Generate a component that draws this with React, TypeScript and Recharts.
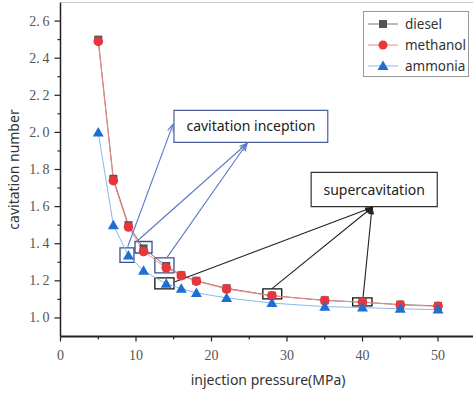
import React from 'react';
import { LineChart, Line, XAxis, YAxis, ReferenceArea, ReferenceLine } from 'recharts';

// injection pressure (MPa) and cavitation number per fuel
const pressure = [5, 7, 9, 11, 14, 16, 18, 22, 28, 35, 40, 45, 50];
const diesel = [2.5, 1.75, 1.5, 1.375, 1.28, 1.23, 1.2, 1.16, 1.12, 1.095, 1.085, 1.072, 1.065];
const methanol = [2.49, 1.74, 1.49, 1.358, 1.27, 1.228, 1.198, 1.156, 1.119, 1.094, 1.085, 1.07, 1.063];
const ammonia = [2.0, 1.5, 1.337, 1.254, 1.184, 1.158, 1.135, 1.108, 1.08, 1.061, 1.056, 1.049, 1.045];

const xTicks = [0, 5, 10, 15, 20, 25, 30, 35, 40, 45, 50];
const yTicks = [1.0, 1.1, 1.2, 1.3, 1.4, 1.5, 1.6, 1.7, 1.8, 1.9, 2.0, 2.1, 2.2, 2.3, 2.4, 2.5, 2.6];

// annotation boxes / arrows, in data units
const inceptionBox = { x1: 15.03, x2: 35.4, y1: 1.946, y2: 2.119, text: 'cavitation inception' };
const superBox = { x1: 33.2, x2: 49.9, y1: 1.6, y2: 1.784, text: 'supercavitation' };
const blueMarks = [
  [7.88, 9.73, 1.299, 1.378],
  [9.87, 12.12, 1.35, 1.412],
  [12.5, 15.03, 1.243, 1.324],
];
const blackMarks = [
  [12.5, 15.03, 1.157, 1.216],
  [26.8, 29.3, 1.103, 1.157],
  [38.7, 41.26, 1.065, 1.108],
];
const blueArrows = [
  [8.9, 1.384, 14.9, 2.043],
  [10.13, 1.4135, 24.7, 1.94],
  [14.07, 1.324, 24.7, 1.94],
];
const blackArrows = [
  [15.17, 1.195, 41.26, 1.595],
  [27.97, 1.157, 41.26, 1.595],
  [40.07, 1.108, 41.26, 1.595],
];

const data = pressure.map((p, i) => ({ p, diesel: diesel[i], methanol: methanol[i], ammonia: ammonia[i] }));

const SANS = '"Noto Sans", "Open Sans", sans-serif';
const SERIF = '"Liberation Serif", "DejaVu Serif", serif';

const Square = (props: any) => {
  const { cx, cy, fill } = props;
  if (cx == null || cy == null) return null;
  return <rect x={cx - 4} y={cy - 4} width={8} height={8} fill={fill} />;
};

const Triangle = (props: any) => {
  const { cx, cy, fill } = props;
  if (cx == null || cy == null) return null;
  return <polygon points={`${cx},${cy - 5.5} ${cx - 5.5},${cy + 4} ${cx + 5.5},${cy + 4}`} fill={fill} />;
};

const Circle = (props: any) => {
  const { cx, cy, fill } = props;
  if (cx == null || cy == null) return null;
  return <circle cx={cx} cy={cy} r={4.8} fill={fill} />;
};

const XTick = ({ x, y, payload }: any) => {
  const major = payload.value % 10 === 0;
  return (
    <g>
      <line x1={x} x2={x} y1={y} y2={y + (major ? 5 : 3)} stroke="#222" strokeWidth={1.2} />
      {major && (
        <text x={x} y={y + 19} textAnchor="middle" dominantBaseline="central" fill="#555" fontSize={14} style={{ fontFamily: SERIF }}>
          {payload.value}
        </text>
      )}
    </g>
  );
};

const YTick = ({ x, y, payload }: any) => {
  const major = Math.round(payload.value * 10) % 2 === 0;
  const [a, b] = payload.value.toFixed(1).split('.');
  return (
    <g>
      <line x1={x} x2={x - (major ? 6 : 3)} y1={y} y2={y} stroke="#222" strokeWidth={1.2} />
      {major && (
        <text x={x - 11} y={y} textAnchor="end" dominantBaseline="central" fill="#555" fontSize={14} style={{ fontFamily: SERIF }}>
          {a}.{'\u2009'}{b}
        </text>
      )}
    </g>
  );
};

const arrow = (color: string, filled: boolean) => (props: any) => {
  const { x1, y1, x2, y2 } = props;
  const a = Math.atan2(y2 - y1, x2 - x1);
  const L = filled ? 7 : 8;
  const w = filled ? 0.3 : 0.38;
  const ax = x2 - L * Math.cos(a - w);
  const ay = y2 - L * Math.sin(a - w);
  const bx = x2 - L * Math.cos(a + w);
  const by = y2 - L * Math.sin(a + w);
  return (
    <g>
      <line x1={x1} y1={y1} x2={x2} y2={y2} stroke={color} strokeWidth={1.1} />
      <polyline
        points={`${ax},${ay} ${x2},${y2} ${bx},${by}`}
        fill={filled ? color : 'none'}
        stroke={color}
        strokeWidth={1.1}
      />
    </g>
  );
};

const legendItems = [
  { name: 'diesel', line: '#777', marker: 'square', color: '#555' },
  { name: 'methanol', line: '#f08a8a', marker: 'circle', color: '#e8363c' },
  { name: 'ammonia', line: '#8db7ea', marker: 'triangle', color: '#1f6fd1' },
];

const LegendBox = () => (
  <div
    style={{
      position: 'absolute',
      left: 363,
      top: 11,
      width: 106,
      height: 66,
      border: '1px solid #999',
      background: '#fff',
      boxSizing: 'border-box',
      paddingTop: 1,
    }}
  >
    {legendItems.map((it) => (
      <div key={it.name} style={{ display: 'flex', alignItems: 'center', height: 21 }}>
        <svg width={36} height={20} style={{ marginLeft: 2 }}>
          <line x1={2} x2={32} y1={10} y2={10} stroke={it.line} strokeWidth={1} />
          {it.marker === 'square' && <rect x={13} y={6} width={8} height={8} fill={it.color} />}
          {it.marker === 'circle' && <circle cx={17} cy={10} r={4.5} fill={it.color} />}
          {it.marker === 'triangle' && <polygon points="17,4.5 11.5,14 22.5,14" fill={it.color} />}
        </svg>
        <span style={{ fontFamily: SANS, fontSize: 13.5, color: '#333', marginLeft: 3 }}>{it.name}</span>
      </div>
    ))}
  </div>
);

export default function App() {
  return (
    <div style={{ position: 'absolute', left: 0, top: 0, width: 473, height: 393, overflow: 'hidden', background: '#fff' }}>
      <LineChart width={480} height={393} data={data} margin={{ top: 2.5, right: 4.25, bottom: 0, left: 0.5 }}>
        <XAxis
          dataKey="p"
          type="number"
          domain={[0, 55]}
          ticks={xTicks}
          interval={0}
          tick={<XTick />}
          tickSize={0}
          tickMargin={0}
          tickLine={false}
          height={56.5}
          axisLine={{ stroke: '#222', strokeWidth: 2 }}
          label={{
            value: 'injection pressure(MPa)',
            position: 'insideBottom',
            offset: 8,
            fill: '#333',
            fontSize: 14,
            fontFamily: SANS,
          }}
        />
        <YAxis
          type="number"
          domain={[0.9, 2.7]}
          ticks={yTicks}
          interval={0}
          tick={<YTick />}
          tickSize={0}
          tickMargin={0}
          tickLine={false}
          width={60}
          axisLine={{ stroke: '#222', strokeWidth: 1.5 }}
          label={{
            value: 'cavitation number',
            angle: -90,
            position: 'insideLeft',
            offset: 13.5,
            fill: '#333',
            fontSize: 14,
            fontFamily: SANS,
            style: { textAnchor: 'middle' },
          }}
        />
        <ReferenceLine y={2.7} stroke="#c8c8c8" strokeWidth={1} />

        <Line dataKey="diesel" stroke="#8a6a6a" strokeWidth={1} dot={<Square fill="#555" />} activeDot={false} isAnimationActive={false} />
        <Line dataKey="methanol" stroke="#f08a8a" strokeWidth={1} dot={<Circle fill="#e8363c" />} activeDot={false} isAnimationActive={false} />
        <Line dataKey="ammonia" stroke="#8db7ea" strokeWidth={1} dot={<Triangle fill="#1f6fd1" />} activeDot={false} isAnimationActive={false} />

        {blueMarks.map((m, i) => (
          <ReferenceArea key={`bm${i}`} x1={m[0]} x2={m[1]} y1={m[2]} y2={m[3]} fill="none" stroke="#34508f" strokeWidth={1.3} />
        ))}
        {blackMarks.map((m, i) => (
          <ReferenceArea key={`km${i}`} x1={m[0]} x2={m[1]} y1={m[2]} y2={m[3]} fill="none" stroke="#111" strokeWidth={1.3} />
        ))}
        {blueArrows.map((a, i) => (
          <ReferenceLine
            key={`ba${i}`}
            segment={[{ x: a[0], y: a[1] }, { x: a[2], y: a[3] }]}
            shape={arrow('#5a78c8', false)}
          />
        ))}
        {blackArrows.map((a, i) => (
          <ReferenceLine
            key={`ka${i}`}
            segment={[{ x: a[0], y: a[1] }, { x: a[2], y: a[3] }]}
            shape={arrow('#222', true)}
          />
        ))}
        <ReferenceArea
          x1={inceptionBox.x1}
          x2={inceptionBox.x2}
          y1={inceptionBox.y1}
          y2={inceptionBox.y2}
          fill="#fff"
          fillOpacity={1}
          stroke="#4a5f96"
          strokeWidth={1.2}
          label={{ value: inceptionBox.text, position: 'center', fill: '#222', fontSize: 14, fontFamily: SANS }}
        />
        <ReferenceArea
          x1={superBox.x1}
          x2={superBox.x2}
          y1={superBox.y1}
          y2={superBox.y2}
          fill="#fff"
          fillOpacity={1}
          stroke="#333"
          strokeWidth={1.2}
          label={{ value: superBox.text, position: 'center', fill: '#222', fontSize: 14, fontFamily: SANS }}
        />
      </LineChart>
      <LegendBox />
    </div>
  );
}
